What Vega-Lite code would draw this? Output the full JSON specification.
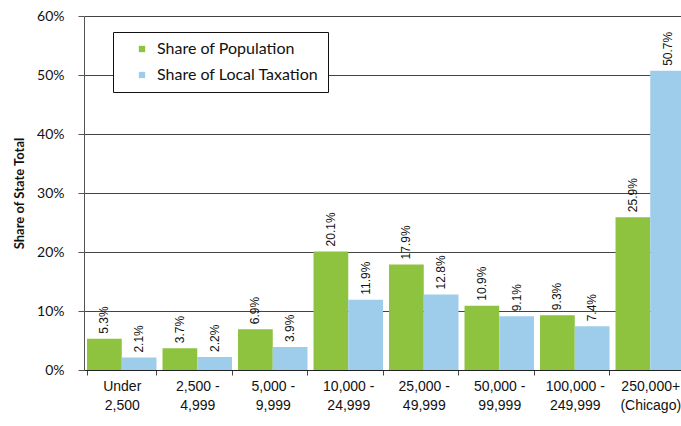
{
  "$schema": "https://vega.github.io/schema/vega-lite/v6.json",
  "width": 597,
  "height": 354,
  "autosize": {"type": "none"},
  "padding": {"left": 84, "top": 16, "right": 0, "bottom": 56},
  "background": "white",
  "config": {"view": {"stroke": null}},
  "data": {
    "values": [
      {"cat": "Under|2,500", "series": "Share of Population", "v": 0.053},
      {"cat": "Under|2,500", "series": "Share of Local Taxation", "v": 0.021},
      {"cat": "2,500 -|4,999", "series": "Share of Population", "v": 0.037},
      {"cat": "2,500 -|4,999", "series": "Share of Local Taxation", "v": 0.022},
      {"cat": "5,000 -|9,999", "series": "Share of Population", "v": 0.069},
      {"cat": "5,000 -|9,999", "series": "Share of Local Taxation", "v": 0.039},
      {"cat": "10,000 -|24,999", "series": "Share of Population", "v": 0.201},
      {"cat": "10,000 -|24,999", "series": "Share of Local Taxation", "v": 0.119},
      {"cat": "25,000 -|49,999", "series": "Share of Population", "v": 0.179},
      {"cat": "25,000 -|49,999", "series": "Share of Local Taxation", "v": 0.128},
      {"cat": "50,000 -|99,999", "series": "Share of Population", "v": 0.109},
      {"cat": "50,000 -|99,999", "series": "Share of Local Taxation", "v": 0.091},
      {"cat": "100,000 -|249,999", "series": "Share of Population", "v": 0.093},
      {"cat": "100,000 -|249,999", "series": "Share of Local Taxation", "v": 0.074},
      {"cat": "250,000+|(Chicago)", "series": "Share of Population", "v": 0.259},
      {"cat": "250,000+|(Chicago)", "series": "Share of Local Taxation", "v": 0.507}
    ]
  },
  "encoding": {
    "x": {
      "field": "cat",
      "type": "nominal",
      "sort": null,
      "scale": {"range": [0, 604], "paddingInner": 0.08, "paddingOuter": 0.04},
      "axis": {
        "title": null,
        "labelAngle": 0,
        "labelExpr": "split(datum.label, '|')",
        "labelFont": "Liberation Sans",
        "labelFontSize": 14,
        "labelColor": "#111",
        "labelLineHeight": 19,
        "labelPadding": 4,
        "tickSize": 5,
        "tickBand": "extent",
        "tickColor": "#444",
        "domainColor": "#222",
        "labelLimit": 200
      }
    },
    "xOffset": {
      "field": "series",
      "type": "nominal",
      "sort": ["Share of Population", "Share of Local Taxation"],
      "scale": {"paddingInner": 0}
    },
    "y": {
      "field": "v",
      "type": "quantitative",
      "scale": {"domain": [0, 0.6]},
      "axis": {
        "title": "Share of State Total",
        "titleFont": "Lato",
        "titleFontSize": 13,
        "titleFontWeight": "bold",
        "titleColor": "#111",
        "titlePadding": 10,
        "format": ".0%",
        "values": [0, 0.1, 0.2, 0.3, 0.4, 0.5, 0.6],
        "labelFont": "Lato",
        "labelFontSize": 14,
        "labelColor": "#111",
        "labelPadding": 14,
        "tickSize": 6,
        "tickColor": "#555",
        "gridColor": "#444",
        "domainColor": "#555"
      }
    }
  },
  "layer": [
    {
      "mark": {"type": "bar"},
      "encoding": {
        "color": {
          "field": "series",
          "type": "nominal",
          "scale": {
            "domain": ["Share of Population", "Share of Local Taxation"],
            "range": ["#8dc33f", "#9dcdea"]
          },
          "legend": {
            "title": null,
            "orient": "none",
            "legendX": 29,
            "legendY": 16,
            "strokeColor": "#111",
            "fillColor": "white",
            "padding": 9,
            "symbolType": "square",
            "symbolSize": 40,
            "symbolOffset": 12,
            "labelFont": "Lato",
            "labelFontSize": 16,
            "labelColor": "#111",
            "labelOffset": 7,
            "labelLimit": 300,
            "rowPadding": 10
          }
        }
      }
    },
    {
      "mark": {
        "type": "text",
        "angle": 270,
        "align": "left",
        "baseline": "middle",
        "dx": 5,
        "font": "Liberation Sans",
        "fontSize": 12,
        "color": "#111"
      },
      "encoding": {
        "text": {"field": "v", "type": "quantitative", "format": ".1%"}
      }
    }
  ]
}
